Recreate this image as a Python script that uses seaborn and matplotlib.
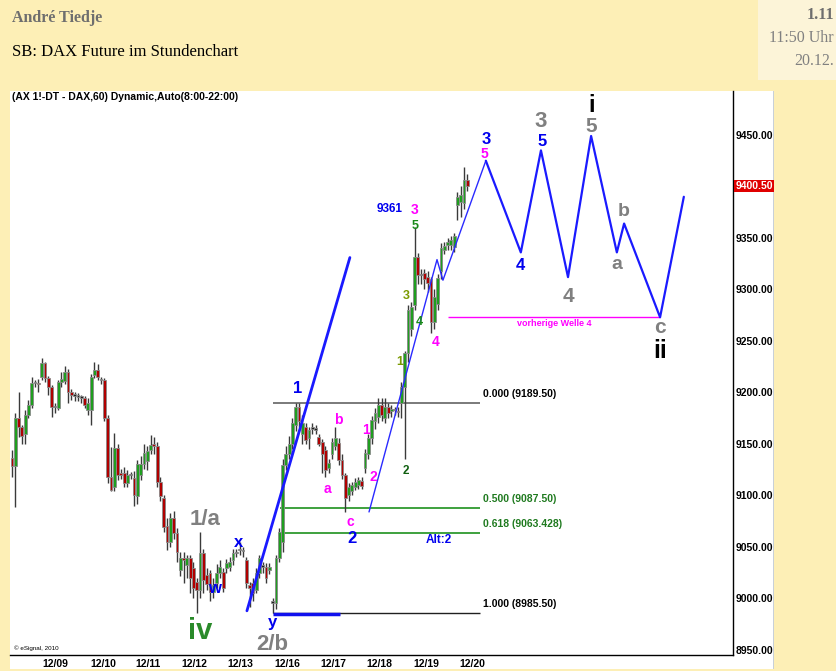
import numpy as np
import pandas as pd
import matplotlib.pyplot as plt
import seaborn as sns
from matplotlib.patches import Rectangle

# hourly candles (8:00-22:00), x = bar number
opens = [9136, 9129, 9175, 9166, 9160, 9178, 9188, 9209, 9209, 9215,
         9229, 9214, 9205, 9186, 9185, 9210, 9211, 9220, 9200, 9197,
         9196, 9195, 9195, 9183, 9183, 9217, 9222, 9212, 9212, 9175,
         9118, 9108, 9146, 9122, 9122, 9112, 9120, 9117, 9099, 9120,
         9131, 9133, 9144, 9150, 9148, 9113, 9098, 9070, 9055, 9078,
         9064, 9028, 9039, 9032, 9039, 9030, 9016, 9008, 9044, 9023,
         9025, 9006, 9015, 9025, 9026, 9030, 9031, 9037, 9044, 9047,
         9046, 9037, 9013, 9015, 9008, 9025, 9031, 9031, 9028, 8996,
         8996, 9039, 9055, 9130, 9140, 9150, 9168, 9186, 9160, 9166,
         9156, 9165, 9164, 9157, 9152, 9144, 9127, 9140, 9148, 9151,
         9134, 9120, 9100, 9104, 9108, 9110, 9114, 9127, 9140, 9156,
         9172, 9176, 9188, 9175, 9186, 9182, 9183, 9182, 9190, 9205,
         9238, 9262, 9285, 9332, 9314, 9316, 9312, 9310, 9268, 9286,
         9318, 9338, 9343, 9343, 9341, 9382, 9385, 9384, 9406]
highs = [9144, 9180, 9200, 9168, 9183, 9193, 9215, 9212, 9213, 9233,
         9230, 9216, 9207, 9190, 9212, 9220, 9226, 9223, 9203, 9200,
         9199, 9198, 9197, 9195, 9218, 9230, 9228, 9215, 9214, 9178,
         9147, 9161, 9150, 9126, 9128, 9125, 9123, 9124, 9134, 9138,
         9150, 9148, 9159, 9157, 9152, 9118, 9100, 9078, 9083, 9085,
         9068, 9045, 9045, 9042, 9042, 9035, 9020, 9065, 9048, 9030,
         9028, 9020, 9033, 9037, 9030, 9038, 9040, 9048, 9048, 9055,
         9050, 9040, 9016, 9020, 9030, 9042, 9035, 9034, 9034, 9000,
         9042, 9068, 9135, 9148, 9158, 9175, 9190, 9190, 9178, 9170,
         9166, 9170, 9168, 9160, 9155, 9148, 9135, 9156, 9166, 9156,
         9140, 9122, 9112, 9113, 9117, 9118, 9118, 9145, 9160, 9177,
         9185, 9195, 9195, 9195, 9190, 9188, 9186, 9186, 9210, 9240,
         9285, 9288, 9361, 9335, 9320, 9320, 9318, 9312, 9300, 9315,
         9345, 9346, 9350, 9352, 9355, 9395, 9400, 9419, 9412]
lows = [9118, 9089, 9157, 9150, 9150, 9175, 9185, 9205, 9200, 9212,
        9210, 9198, 9176, 9180, 9183, 9205, 9208, 9190, 9193, 9192,
        9192, 9190, 9185, 9178, 9168, 9214, 9212, 9208, 9172, 9112,
        9104, 9104, 9115, 9116, 9108, 9108, 9116, 9090, 9092, 9115,
        9126, 9125, 9140, 9140, 9108, 9095, 9065, 9047, 9050, 9058,
        9035, 9022, 9015, 9020, 9005, 9000, 8986, 9000, 9005, 9008,
        8998, 9000, 9010, 9020, 9006, 9025, 9027, 9032, 9040, 9042,
        9040, 9010, 8992, 8998, 9005, 9020, 9025, 9015, 9024, 8986,
        8990, 9035, 9045, 9125, 9135, 9145, 9163, 9166, 9150, 9150,
        9145, 9160, 9160, 9148, 9122, 9118, 9122, 9135, 9144, 9130,
        9116, 9084, 9095, 9100, 9105, 9106, 9106, 9122, 9135, 9150,
        9165, 9170, 9172, 9170, 9175, 9176, 9178, 9176, 9175, 9135,
        9230, 9255, 9280, 9305, 9305, 9300, 9298, 9258, 9262, 9280,
        9310, 9334, 9338, 9338, 9336, 9367, 9370, 9378, 9396]
closes = [9129, 9175, 9166, 9158, 9178, 9188, 9209, 9209, 9208, 9229,
          9214, 9205, 9186, 9186, 9210, 9213, 9220, 9200, 9198, 9197,
          9196, 9195, 9188, 9190, 9215, 9222, 9215, 9212, 9175, 9118,
          9105, 9146, 9120, 9120, 9112, 9120, 9120, 9100, 9131, 9131,
          9141, 9143, 9149, 9148, 9113, 9099, 9069, 9055, 9078, 9064,
          9045, 9039, 9037, 9039, 9020, 9010, 9008, 9044, 9018, 9014,
          9006, 9013, 9025, 9031, 9010, 9034, 9035, 9044, 9044, 9047,
          9046, 9015, 9010, 9005, 9025, 9039, 9031, 9020, 9031, 8996,
          9039, 9065, 9130, 9140, 9150, 9170, 9186, 9172, 9170, 9154,
          9164, 9165, 9164, 9150, 9140, 9125, 9132, 9152, 9156, 9134,
          9120, 9098, 9108, 9110, 9113, 9115, 9109, 9141, 9156, 9173,
          9180, 9188, 9178, 9186, 9180, 9184, 9183, 9181, 9205, 9238,
          9280, 9283, 9332, 9314, 9314, 9310, 9306, 9268, 9293, 9311,
          9340, 9342, 9346, 9348, 9352, 9390, 9392, 9406, 9400.5]

date_labels = ['12/09', '12/10', '12/11', '12/12', '12/13',
               '12/16', '12/17', '12/18', '12/19', '12/20']
date_pos = [13.0, 27.6, 41.2, 55.2, 69.1, 83.3, 97.3, 111.2, 125.5, 139.4]
price_ticks = [8950, 9000, 9050, 9100, 9150, 9200, 9250, 9300, 9350, 9400, 9450]
last_price = 9400.50

fib_levels = [9189.50, 9087.50, 9063.428, 8985.50]
fib_names = ['0.000 (9189.50)', '0.500 (9087.50)', '0.618 (9063.428)', '1.000 (8985.50)']
fib_start = [79.1, 81.2, 81.2, 79.1]
fib_end = 141.8
fib_colors = ['#707070', '#2f9a2f', '#2f9a2f', '#202020']
fib_text_colors = ['black', '#1f7a1f', '#1f7a1f', 'black']

# drawn wave paths
path_x = [108.2, 128.8, 130.6, 143.6]
path_y = [9084, 9329, 9309, 9425]
proj_x = [143.6, 154.2, 160.3, 168.5, 175.5, 183.3, 185.5, 196.4, 203.6]
proj_y = [9425, 9336, 9435, 9312, 9449, 9336, 9364, 9273, 9390]
channel_x = [71.2, 102.4]
channel_y = [8988, 9331]
welle4_level = 9273
welle4_x = [132.1, 196.4]

# wave labels: text, x, price, colour, size
BLUE, MAG, GREY = '#0000ee', '#ff00ff', '#808080'
GRN, OLIVE, DGRN = '#1a8a1a', '#7a9a00', '#0f5f0f'
wave_labels = [
    ('1', 86.7, 9204, BLUE, 12), ('2', 103.0, 9058, BLUE, 12),
    ('c', 102.4, 9074, MAG, 10), ('a', 95.5, 9106, MAG, 10),
    ('b', 98.8, 9173, MAG, 10), ('1', 107.3, 9164, MAG, 10),
    ('2', 109.4, 9118, MAG, 10), ('2', 119.4, 9124, DGRN, 8.5),
    ('1', 117.6, 9230, OLIVE, 9), ('3', 119.4, 9294, OLIVE, 9),
    ('4', 123.3, 9268, GRN, 9), ('5', 122.1, 9362, GRN, 9),
    ('3', 122.1, 9377, MAG, 10), ('4', 128.5, 9249, MAG, 10),
    ('9361', 114.5, 9378, BLUE, 8.5),
    ('3', 143.6, 9446, BLUE, 12), ('5', 143.3, 9432, MAG, 10),
    ('4', 154.2, 9323, BLUE, 12),
    ('3', 160.3, 9463, GREY, 16), ('5', 160.6, 9444, BLUE, 12),
    ('4', 168.5, 9293, GREY, 15),
    ('i', 175.8, 9479, 'black', 17), ('5', 175.5, 9458, GREY, 15),
    ('b', 185.5, 9376, GREY, 14), ('a', 183.3, 9324, GREY, 14),
    ('c', 196.4, 9263, GREY, 15), ('ii', 196.4, 9240, 'black', 18),
    ('Alt:2', 129.4, 9057, BLUE, 8.5),
    ('1/a', 58.5, 9077, GREY, 16), ('x', 68.8, 9054, BLUE, 12),
    ('w', 61.5, 9010, BLUE, 12), ('iv', 57.0, 8968, '#2a8a2a', 21),
    ('y', 78.8, 8977, BLUE, 12), ('2/b', 78.8, 8955, GREY, 16),
]

W, H = 837, 671
sns.set_style('white')
plt.rcParams['font.family'] = ['Liberation Sans', 'DejaVu Sans']

fig = plt.figure(figsize=(W / 100, H / 100), dpi=100)
fig.patch.set_facecolor('#fdefb6')
for rect, col in [((10, 2, 764, 578), 'white'), ((773, 2, 1.2, 578), '#c8d0d8'),
                  ((758, H - 80, 79, 80), '#fcf4d8')]:
    x0, y0, w, h = rect
    fig.add_artist(Rectangle((x0 / W, y0 / H), w / W, h / H, transform=fig.transFigure,
                             facecolor=col, edgecolor='none', zorder=-5))

ax = fig.add_axes([10 / W, 16 / H, 723 / W, 564 / H], zorder=2)
ax.set_facecolor('none')

df = pd.DataFrame({'o': opens, 'h': highs, 'l': lows, 'c': closes})
df['i'] = np.arange(len(df))
up = df['c'] > df['o']
down = df['c'] < df['o']
body_col = np.where(up, '#1f9e1f', np.where(down, '#b00000', '#202020'))

ax.vlines(df['i'], df['l'], df['h'], color='#3a3a3a', lw=1, zorder=2)
ax.bar(df['i'], np.maximum((df['c'] - df['o']).abs(), 1.2), bottom=np.minimum(df['o'], df['c']),
       width=0.85, color=body_col, edgecolor='#8a8a8a', linewidth=0.6, zorder=3)

# fib retracement lines
for lvl, name, x0, col, tcol in zip(fib_levels, fib_names, fib_start, fib_colors, fib_text_colors):
    ax.hlines(lvl, x0, fib_end, color=col, lw=1.3 if col != '#202020' else 1.0, zorder=1)
    ax.text(fib_end + 0.9, lvl + 4, name, color=tcol, fontsize=7.5, fontweight='bold',
            ha='left', va='bottom')
ax.hlines(fib_levels[3] - 1, fib_start[3], 99.4, color='#1010ee', lw=2.5, zorder=4)

# previous wave 4 line
ax.hlines(welle4_level, welle4_x[0], welle4_x[1], color=MAG, lw=1, zorder=1)
ax.text(np.mean(welle4_x), welle4_level - 6, 'vorherige Welle 4', color=MAG, fontsize=6.5,
        fontweight='bold', ha='center', va='center')

sns.lineplot(x=channel_x, y=channel_y, sort=False, estimator=None, color='#1a1aff', lw=2,
             ax=ax, zorder=5)
sns.lineplot(x=path_x, y=path_y, sort=False, estimator=None, color='#2a2aff', lw=1,
             ax=ax, zorder=5)
sns.lineplot(x=proj_x, y=proj_y, sort=False, estimator=None, color='#1a1aff', lw=1.6,
             ax=ax, zorder=5)

for txt, x, y, col, size in wave_labels:
    ax.text(x, y, txt, color=col, fontsize=size, fontweight='bold', ha='center', va='center',
            zorder=6)

ax.set_xlim(-0.6, 218.5)
ax.set_ylim(8945.1, 9492.7)
ax.set_xticks(date_pos)
ax.set_xticklabels(date_labels)
ax.set_yticks(price_ticks)
ax.set_yticklabels([f'{p:.2f}' for p in price_ticks])
ax.yaxis.tick_right()
ax.tick_params(axis='both', length=0, labelsize=7.5, colors='black')
ax.tick_params(axis='y', pad=2)
ax.tick_params(axis='x', pad=3)
for lab in ax.get_xticklabels() + ax.get_yticklabels():
    lab.set_fontweight('bold')
for side in ['left', 'top']:
    ax.spines[side].set_visible(False)
for side in ['right', 'bottom']:
    ax.spines[side].set_color('black')
    ax.spines[side].set_linewidth(1)
ax.set_xlabel('')
ax.set_ylabel('')

ax.text(1.003, last_price, '9400.50', transform=ax.get_yaxis_transform(), color='white',
        fontsize=7.5, fontweight='bold', ha='left', va='center',
        bbox=dict(boxstyle='square,pad=0.12', facecolor='#e00000', edgecolor='none'))

serif = ['Liberation Serif', 'DejaVu Serif']
fig.text(12 / W, 1 - 18 / H, 'André Tiedje', family=serif, fontsize=11.5, fontweight='bold',
         color='#6e6e6e', ha='left', va='center')
fig.text(12 / W, 1 - 52 / H, 'SB: DAX Future im Stundenchart', family=serif, fontsize=12,
         color='black', ha='left', va='center')
fig.text(834 / W, 1 - 15 / H, '1.11', family=serif, fontsize=11.5, fontweight='bold',
         color='#6e6e6e', ha='right', va='center')
fig.text(834 / W, 1 - 38 / H, '11:50 Uhr', family=serif, fontsize=11.5,
         color='#808080', ha='right', va='center')
fig.text(834 / W, 1 - 61 / H, '20.12.', family=serif, fontsize=11.5,
         color='#808080', ha='right', va='center')
fig.text(12 / W, 1 - 97 / H, '(AX 1!-DT - DAX,60) Dynamic,Auto(8:00-22:00)',
         fontsize=7.5, fontweight='bold', color='black', ha='left', va='center')
fig.text(14 / W, 1 - 648 / H, '© eSignal, 2010', fontsize=4.5, color='black',
         ha='left', va='center')

fig.savefig('out.png', dpi=100, facecolor=fig.get_facecolor())
